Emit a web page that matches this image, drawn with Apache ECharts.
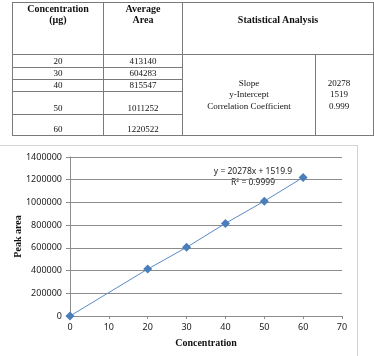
<!DOCTYPE html>
<html>
<head>
<meta charset="utf-8">
<script src="https://cdn.jsdelivr.net/npm/echarts@6/dist/echarts.min.js"></script>
<style>
  html, body { margin: 0; padding: 0; background: #fff; }
  #chart { position: absolute; left: 0; top: 0; width: 374px; height: 356px; }
  .frame {
    position: absolute; left: -1px; top: 145px; width: 357px; height: 230px;
    border: 1px solid #d4d4d4;
  }
  table {
    position: absolute; left: 12px; top: 2px; width: 361px;
    border-collapse: collapse; table-layout: fixed;
    font-family: "Liberation Serif", "DejaVu Serif", serif; color: #111;
  }
  td { border: 1px solid #7a7a7a; padding: 0; text-align: center; }
  .head td { font-weight: bold; font-size: 10px; line-height: 11px; vertical-align: top; height: 40px; }
  .body td { font-size: 9px; line-height: 11px; vertical-align: bottom; }
  td.stat { vertical-align: middle; line-height: 11.5px; }
  td.val { padding-right: 11px; }
</style>
</head>
<body>
<div class="frame"></div>
<div id="chart"></div>
<table id="tbl"></table>
<script>
// 表格数据
const tableConc = ['20', '30', '40', '50', '60']
const tableArea = ['413140', '604283', '815547', '1011252', '1220522']
const rowHeights = [13, 11, 12, 23, 21]
const statLabels = ['Slope', 'y-Intercept', 'Correlation Coefficient']
const statValues = ['20278', '1519', '0.999']

// 图表数据
const concentration = [0, 20, 30, 40, 50, 60]
const peakArea = [0, 413140, 604283, 815547, 1011252, 1220522]
const equationText = 'y = 20278x + 1519.9'
const r2Text = 'R² = 0.9999'

const tbl = document.getElementById('tbl')
let html = '<colgroup><col style="width:91px"><col style="width:79px"><col style="width:133px"><col style="width:58px"></colgroup>'
html += '<tr class="head"><td>Concentration<br>(µg)</td><td>Average<br>Area</td>' +
  '<td colspan="2" style="padding-top:11px">Statistical Analysis</td></tr>'
tableConc.forEach((c, i) => {
  html += '<tr class="body"><td style="height:' + (rowHeights[i] - 1) + 'px">' + c + '</td><td>' + tableArea[i] + '</td>'
  if (i === 0) {
    html += '<td class="stat" rowspan="5">' + statLabels.join('<br>') + '</td>'
    html += '<td class="stat val" rowspan="5">' + statValues.join('<br>') + '</td>'
  }
  html += '</tr>'
})
tbl.innerHTML = html

const myChart = echarts.init(document.getElementById('chart'))
const axisColor = '#8c8c8c'
const labelFont = { fontFamily: 'Noto Sans', fontSize: 9, color: '#222' }
const nameFont = { fontFamily: 'Liberation Serif', fontSize: 10, fontWeight: 'bold', color: '#111' }

myChart.setOption({
  animation: false,
  grid: { left: 70, right: 32, top: 157, bottom: 40, containLabel: false, outerBoundsMode: 'none' },
  xAxis: {
    type: 'value',
    min: 0,
    max: 70,
    interval: 10,
    name: 'Concentration',
    nameLocation: 'middle',
    nameGap: 22,
    nameMoveOverlap: false,
    nameTextStyle: nameFont,
    axisLine: { lineStyle: { color: axisColor } },
    axisTick: { show: true, length: 3, lineStyle: { color: axisColor } },
    axisLabel: { ...labelFont, margin: 7 },
    splitLine: { show: false }
  },
  yAxis: {
    type: 'value',
    min: 0,
    max: 1400000,
    interval: 200000,
    name: 'Peak area',
    nameLocation: 'middle',
    nameGap: 47,
    nameMoveOverlap: false,
    nameTextStyle: nameFont,
    axisLine: { show: true, lineStyle: { color: axisColor } },
    axisTick: { show: true, length: 4, lineStyle: { color: axisColor } },
    axisLabel: { ...labelFont, margin: 8, formatter: (v) => String(v) },
    splitLine: { lineStyle: { color: axisColor, width: 1 } }
  },
  graphic: [
    {
      type: 'text',
      x: 253,
      y: 177,
      style: {
        text: equationText + '\n' + r2Text, align: 'center', verticalAlign: 'middle',
        fontFamily: 'Noto Sans', fontSize: 8.5, lineHeight: 11, fill: '#222'
      }
    }
  ],
  series: [
    {
      type: 'line',
      data: concentration.map((c, i) => [c, peakArea[i]]),
      symbol: 'diamond',
      symbolSize: 9,
      lineStyle: { color: '#5a8ac6', width: 1 },
      itemStyle: { color: '#4a7ebb' },
      z: 3
    }
  ]
})
</script>
</body>
</html>
